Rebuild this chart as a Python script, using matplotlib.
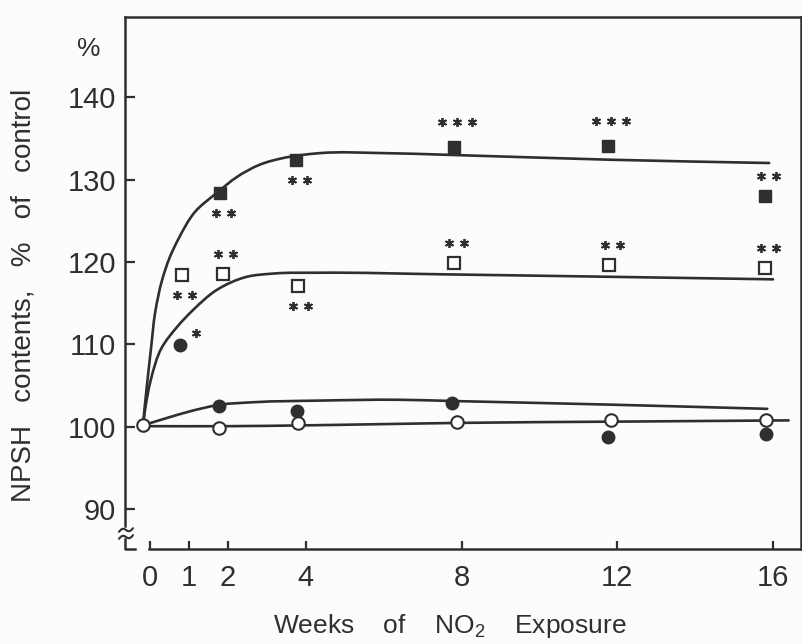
import numpy as np
import matplotlib
matplotlib.use("Agg")
import matplotlib.pyplot as plt
from matplotlib.path import Path
from matplotlib.patches import PathPatch
from matplotlib.transforms import Affine2D, offset_copy

plt.rcParams['font.family'] = ['Liberation Sans', 'DejaVu Sans']
plt.rcParams['mathtext.fontset'] = 'custom'
plt.rcParams['mathtext.rm'] = 'Liberation Sans'

INK = '#2f2f2f'
PAPER = '#fcfcfa'

# NPSH contents (% of control) vs weeks of NO2 exposure
wk_sq_filled = [1.8, 3.75, 7.8, 11.75, 15.8]
npsh_sq_filled = [128.4, 132.4, 133.9, 134.1, 128.0]
stars_sq_filled = [2, 2, 3, 3, 2]
side_sq_filled = [-1, -1, 1, 1, 1]

wk_sq_open = [0.82, 1.87, 3.8, 7.8, 11.8, 15.8]
npsh_sq_open = [118.4, 118.5, 117.1, 119.9, 119.6, 119.3]
stars_sq_open = [2, 2, 2, 2, 2, 2]
side_sq_open = [-1, 1, -1, 1, 1, 1]

wk_dot_filled = [0.77, 1.77, 3.78, 7.76, 11.76, 15.82]
npsh_dot_filled = [109.9, 102.5, 101.9, 102.9, 98.8, 99.2]
stars_dot_filled = [1, 0, 0, 0, 0, 0]

wk_dot_open = [-0.18, 1.77, 3.8, 7.88, 11.84, 15.82]
npsh_dot_open = [100.2, 99.9, 100.5, 100.6, 100.8, 100.8]

# fitted curves
fit_sq_filled_x = [-0.18, -0.13, -0.05, 0.03, 0.13, 0.31, 0.51, 0.72, 1.16, 1.72, 2.23,
                   2.82, 3.52, 4.37, 6.0, 7.6, 11.8, 15.9]
fit_sq_filled_y = [100.2, 102.7, 106.3, 109.7, 113.8, 117.8, 120.6, 122.7, 126.1, 128.4, 130.3,
                   131.8, 132.7, 133.2, 133.2, 133.0, 132.4, 132.0]

fit_sq_open_x = [-0.18, -0.12, 0.02, 0.3, 0.69, 1.11, 1.71, 2.48, 3.17, 4.37,
                 7.6, 11.9, 16.0]
fit_sq_open_y = [100.2, 102.3, 105.7, 109.6, 112.1, 114.2, 116.6, 118.2, 118.6, 118.7,
                 118.5, 118.2, 117.9]

fit_dot_filled_x = [-0.18, 0.51, 0.95, 1.80, 2.65, 4.37, 6.4, 7.76, 11.9, 15.85]
fit_dot_filled_y = [100.2, 101.2, 101.8, 102.7, 103.0, 103.2, 103.3, 103.15, 102.7, 102.2]

fit_dot_open_x = [-0.18, 2.0, 4.0, 6.0, 8.0, 12.0, 16.4]
fit_dot_open_y = [100.1, 100.1, 100.2, 100.35, 100.5, 100.65, 100.8]

xticks = [0, 1, 2, 4, 8, 12, 16]
yticks = [90, 100, 110, 120, 130, 140]

XMIN, XMAX = -0.642, 16.718
YMIN, YMAX = 85.21, 149.7

fig = plt.figure(figsize=(8.03, 6.44), dpi=100)
fig.patch.set_facecolor(PAPER)
ax_l, ax_b, ax_w, ax_h = 125, 549, 676, 532   # pixels
ax = fig.add_axes([ax_l / 803, 1 - ax_b / 644, ax_w / 803, ax_h / 644])
ax.set_facecolor(PAPER)
ax.set_xlim(XMIN, XMAX)
ax.set_ylim(YMIN, YMAX)

# pixels per data unit, used to keep the spline tangents isotropic on screen
PX_X = ax_w / (XMAX - XMIN)
PX_Y = ax_h / (YMAX - YMIN)


def smooth_path(xs, ys):
    # chord-length Hermite spline through the read points, as cubic Bezier segments
    p = np.column_stack([np.asarray(xs) * PX_X, np.asarray(ys) * PX_Y])
    seg = np.diff(p, axis=0)
    d = np.hypot(seg[:, 0], seg[:, 1])
    u = seg / d[:, None]
    tan = np.empty_like(p)
    tan[0], tan[-1] = u[0], u[-1]
    for i in range(1, len(p) - 1):
        tan[i] = (d[i] * u[i - 1] + d[i - 1] * u[i]) / (d[i - 1] + d[i])
    verts = [p[0]]
    codes = [Path.MOVETO]
    for i in range(len(p) - 1):
        verts += [p[i] + tan[i] * d[i] / 3, p[i + 1] - tan[i + 1] * d[i] / 3, p[i + 1]]
        codes += [Path.CURVE4] * 3
    verts = np.array(verts) / [PX_X, PX_Y]
    return Path(verts, codes)


for sp in ax.spines.values():
    sp.set_linewidth(1.8)
    sp.set_color(INK)
ax.spines['left'].set_bounds(88.0, YMAX)
ax.spines['bottom'].set_bounds(-0.03, XMAX)

ax.set_xticks(xticks)
ax.set_xticklabels([str(t) for t in xticks])
ax.set_yticks(yticks)
ax.set_yticklabels([str(t) for t in yticks])
ax.tick_params(axis='y', direction='in', length=7, width=1.6, pad=6.5,
               labelsize=21, colors=INK)
ax.tick_params(axis='x', direction='in', length=6, width=1.6, pad=11,
               labelsize=21, colors=INK)

# axis break on the lower left corner, drawn in pixels from the axes origin
brk = Affine2D().scale(1.0 / ax_w, 1.0 / ax_h) + ax.transAxes
t = np.linspace(-1, 1, 40)
for y0 in (19, 12):
    ax.plot(1 + 7 * t, y0 + 1.8 * t - 2.0 * np.sin(np.pi * t), transform=brk,
            color=INK, lw=1.5, clip_on=False, solid_capstyle='round')
ax.plot([0, 0, 10], [10, 0, 0], transform=brk, color=INK, lw=1.8, clip_on=False)

# fitted curves
for xs, ys in [(fit_sq_filled_x, fit_sq_filled_y), (fit_sq_open_x, fit_sq_open_y),
               (fit_dot_filled_x, fit_dot_filled_y), (fit_dot_open_x, fit_dot_open_y)]:
    ax.add_patch(PathPatch(smooth_path(xs, ys), fill=False, lw=1.9, ec=INK,
                           capstyle='round', zorder=2))

# data points
ax.plot(wk_sq_filled, npsh_sq_filled, 's', ms=8.5, color=INK, zorder=4)
ax.plot(wk_sq_open, npsh_sq_open, 's', ms=8, mfc='white', mec=INK, mew=1.6, zorder=4)
ax.plot(wk_dot_filled, npsh_dot_filled, 'o', ms=9, color=INK, zorder=4)
ax.plot(wk_dot_open, npsh_dot_open, 'o', ms=9, mfc='white', mec=INK, mew=1.5, zorder=5)


def draw_stars(xs, ys, counts, sides, dx=3, gap=20, spacing=15):
    for x, y, n, s in zip(xs, ys, counts, sides):
        if n == 0:
            continue
        dy = s * (gap + (5 if n == 3 else 0))
        for k in range(n):
            off = offset_copy(ax.transData, fig=fig, x=dx + (k - (n - 1) / 2) * spacing,
                              y=dy, units='dots')
            ax.plot([x], [y], marker=(6, 2, 0), ms=6.5, mew=1.3, color=INK,
                    transform=off, clip_on=False, zorder=4)


draw_stars(wk_sq_filled, npsh_sq_filled, stars_sq_filled, side_sq_filled)
draw_stars(wk_sq_open, npsh_sq_open, stars_sq_open, side_sq_open)
draw_stars(wk_dot_filled, npsh_dot_filled, stars_dot_filled, [1] * 6, dx=16, gap=12)

fig.text(89 / 803, 1 - 49 / 644, '%', ha='center', va='center', fontsize=19, color=INK)
fig.text(24 / 803, 1 - 295 / 644, 'NPSH   contents,   %   of   control', rotation=90,
         ha='center', va='center', fontsize=20, color=INK)
fig.text(450 / 803, 1 - 633 / 644, 'Weeks    of    NO$_2$    Exposure',
         ha='center', va='baseline', fontsize=19, color=INK)

fig.savefig('out.png', dpi=100, facecolor=PAPER)
